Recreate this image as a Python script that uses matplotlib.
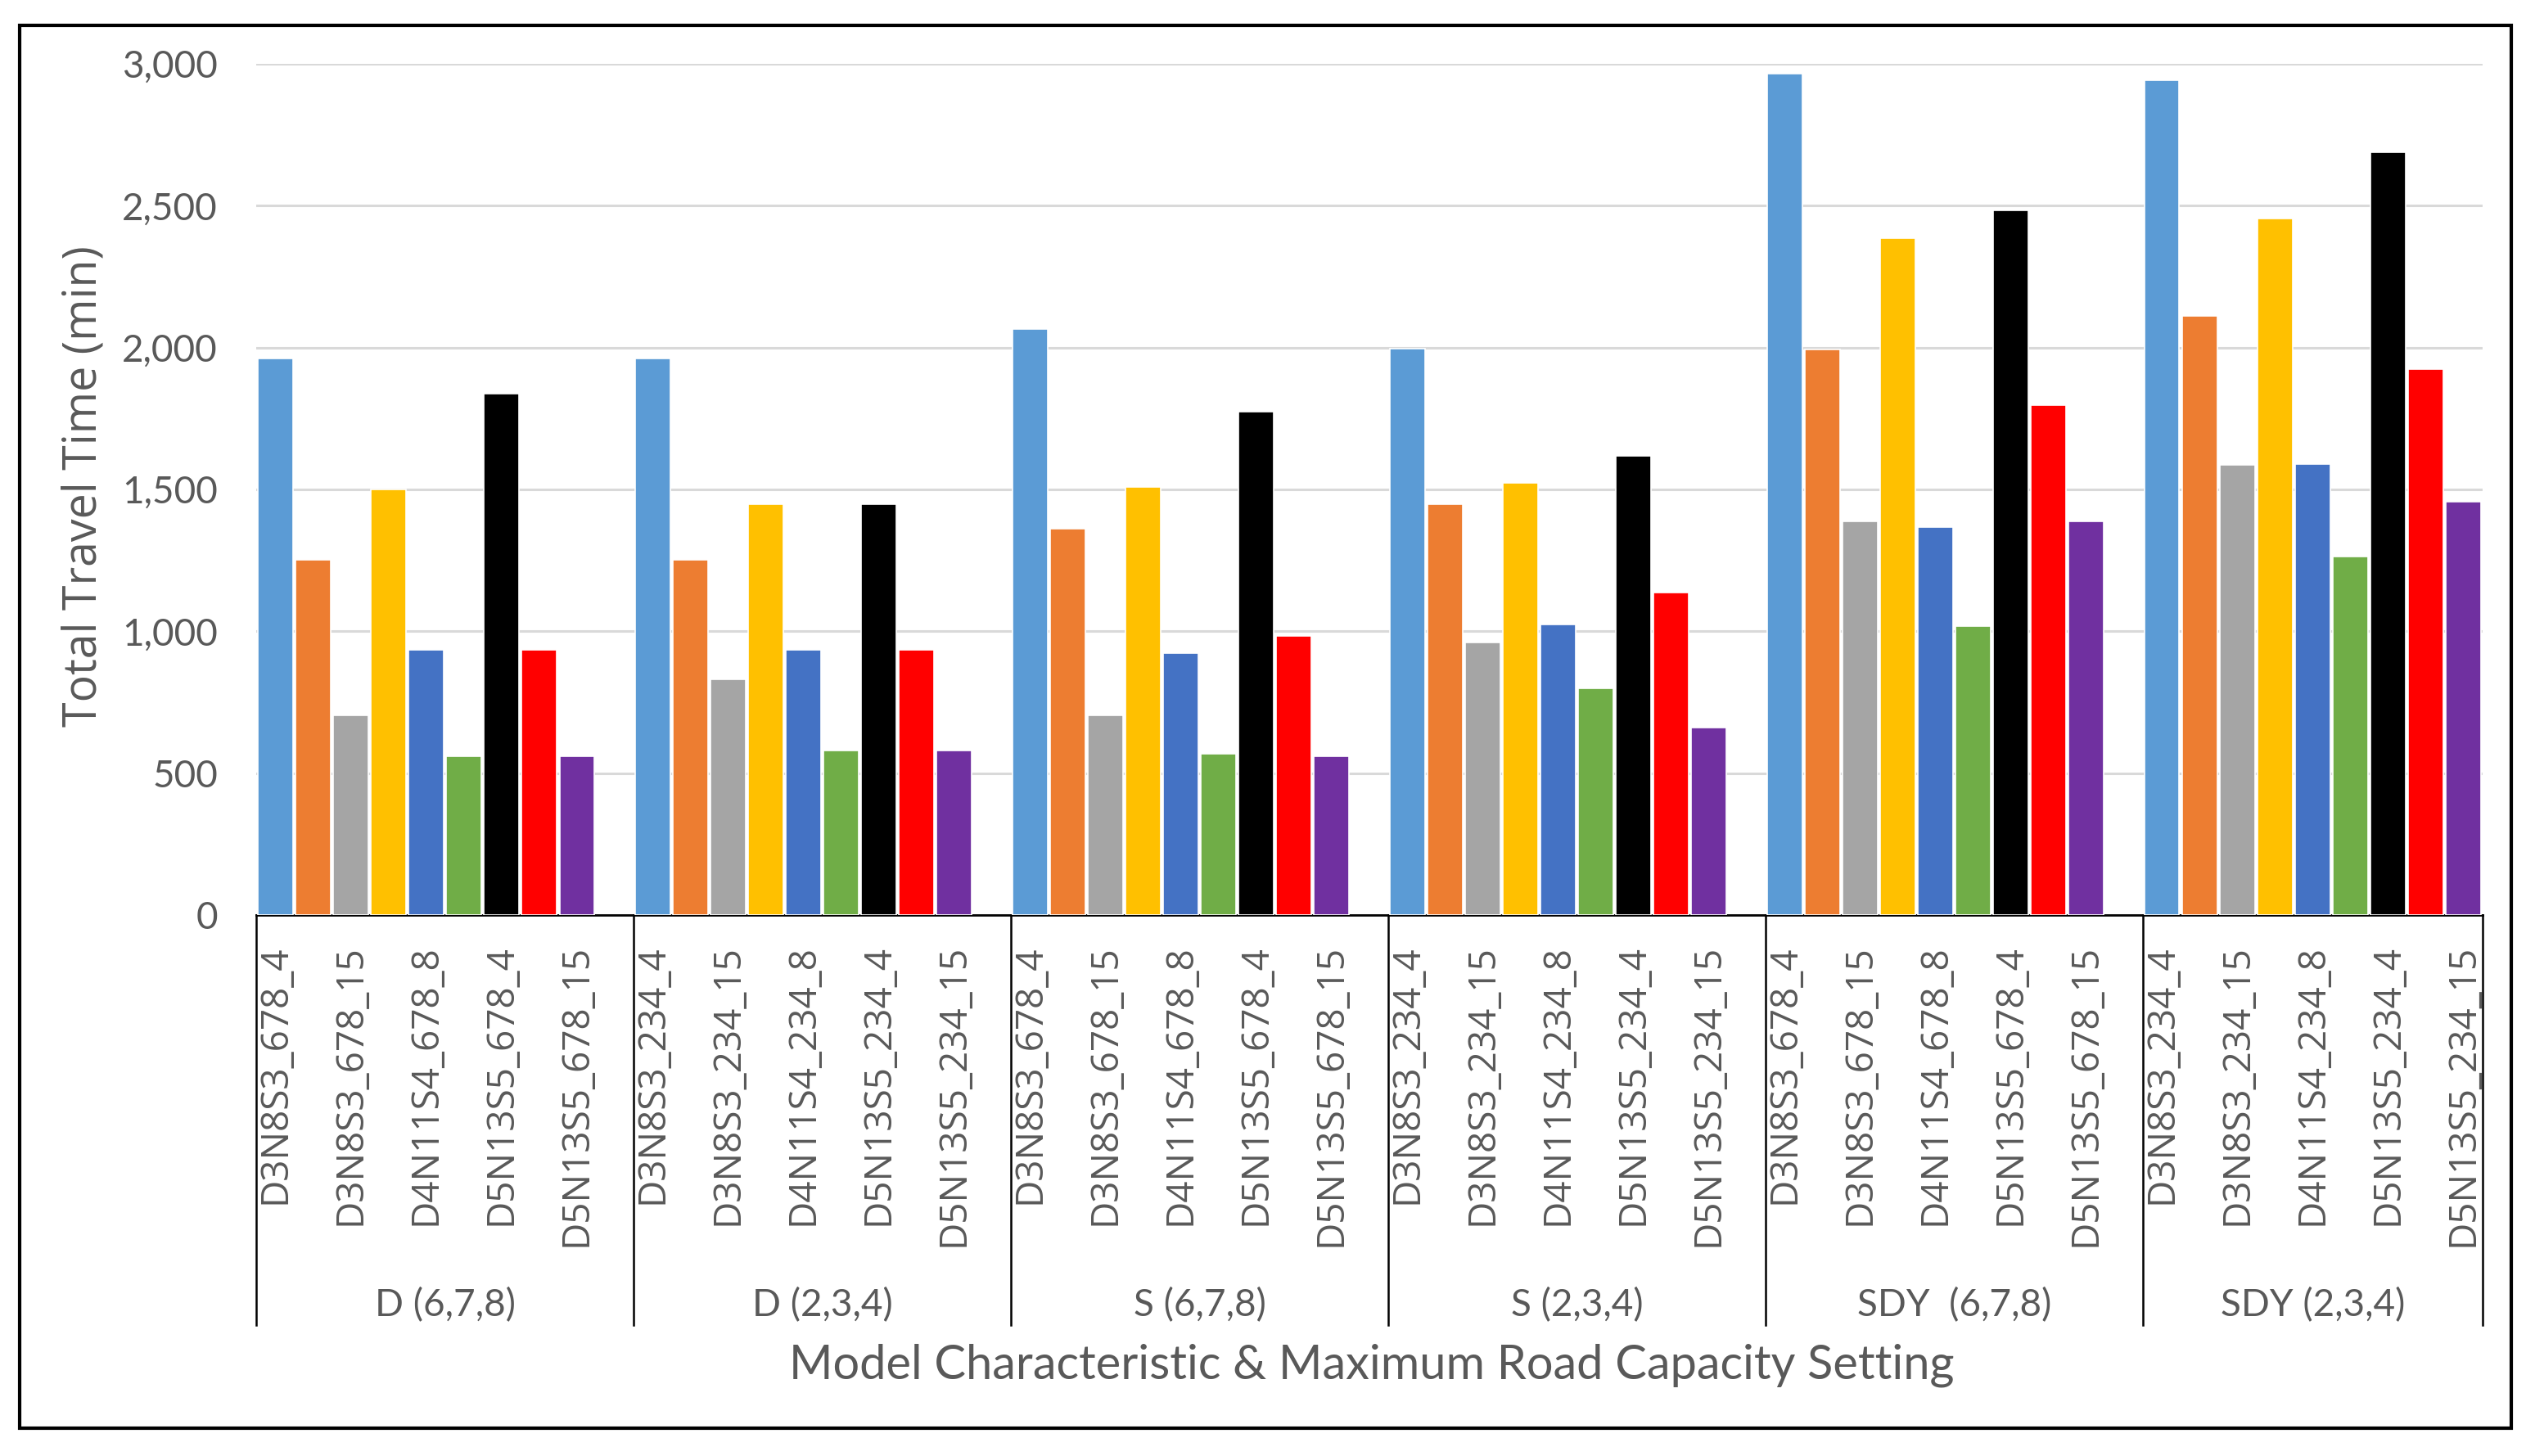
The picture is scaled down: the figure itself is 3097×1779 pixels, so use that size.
import numpy as np
import matplotlib.pyplot as plt
from matplotlib.patches import Rectangle

# data (total travel time, min)
groups = ['D (6,7,8)', 'D (2,3,4)', 'S (6,7,8)', 'S (2,3,4)', 'SDY  (6,7,8)', 'SDY (2,3,4)']
group_codes = ['678', '234', '678', '234', '678', '234']
models = ['D3N8S3', 'D4N11S4', 'D5N13S5']
caps = ['4', '8', '15']

d_678 = [1960, 1252, 703, 1500, 935, 560, 1838, 935, 560]
d_234 = [1960, 1252, 830, 1447, 935, 581, 1447, 935, 581]
s_678 = [2065, 1361, 703, 1509, 924, 568, 1775, 984, 560]
s_234 = [1996, 1447, 961, 1522, 1023, 800, 1619, 1137, 660]
sdy_678 = [2965, 1992, 1388, 2386, 1366, 1019, 2482, 1796, 1388]
sdy_234 = [2943, 2110, 1585, 2456, 1589, 1263, 2689, 1925, 1457]
values = [d_678, d_234, s_678, s_234, sdy_678, sdy_234]

colors = ['#5B9BD5', '#ED7D31', '#A5A5A5', '#FFC000', '#4472C4',
          '#70AD47', '#000000', '#FF0000', '#7030A0']

txt = '#595959'
num_font = ['Lato', 'DejaVu Sans']
lab_font = ['Open Sans', 'DejaVu Sans']

fig = plt.figure(figsize=(15.485, 8.895), dpi=200)
ax = fig.add_axes([0.1011, 0.3716, 0.8782, 0.5846])

tick_pos = []
tick_lab = []
for g in range(len(groups)):
    start = g * 10
    x = start + np.arange(9) + 0.5
    ax.bar(x, values[g], width=0.93, color=colors, edgecolor='white', linewidth=0.6, zorder=3)
    labels = [m + '_' + group_codes[g] + '_' + c for m in models for c in caps]
    for j in range(0, 9, 2):
        tick_pos.append(x[j])
        tick_lab.append(labels[j])

ax.set_xlim(0, 59)
ax.set_ylim(0, 3000)
ax.set_yticks(np.arange(0, 3001, 500))
ax.set_yticklabels([f'{v:,}' for v in range(0, 3001, 500)], family=num_font, fontsize=16.5, color=txt)
ax.set_xticks(tick_pos)
ax.set_xticklabels(tick_lab, rotation=90, family=lab_font, fontsize=16.5, color=txt)
ax.tick_params(axis='x', length=0, pad=13)
ax.tick_params(axis='y', length=0, pad=17)
ax.grid(axis='y', color='#D9D9D9', linewidth=1.1, zorder=0)

for s in ['top', 'right', 'left']:
    ax.spines[s].set_visible(False)
ax.spines['bottom'].set_color('black')
ax.spines['bottom'].set_linewidth(1.0)

# group separators and group names under the tick labels
bounds = [0, 10, 20, 30, 40, 50, 59]
for b in bounds:
    ax.plot([b, b], [0, -0.482], transform=ax.get_xaxis_transform(), color='black',
            linewidth=0.9, clip_on=False)
for g in range(len(groups)):
    mid = (bounds[g] + bounds[g + 1]) / 2
    ax.text(mid, -0.458, groups[g], transform=ax.get_xaxis_transform(), ha='center', va='center',
            family=num_font, fontsize=16.5, color=txt)

fig.text(0.0333, 0.666, 'Total Travel Time (min)', rotation=90, ha='center', va='center',
         family=lab_font, fontsize=20, color=txt)
fig.text(0.541, 0.0624, 'Model Characteristic & Maximum Road Capacity Setting', ha='center', va='center',
         family=num_font, fontsize=20.8, color=txt)

fig.patches.append(Rectangle((0.00775, 0.0191), 0.98285, 0.9635, transform=fig.transFigure,
                             fill=False, edgecolor='black', linewidth=1.5))

fig.savefig('out.png', dpi=200, facecolor='white')
